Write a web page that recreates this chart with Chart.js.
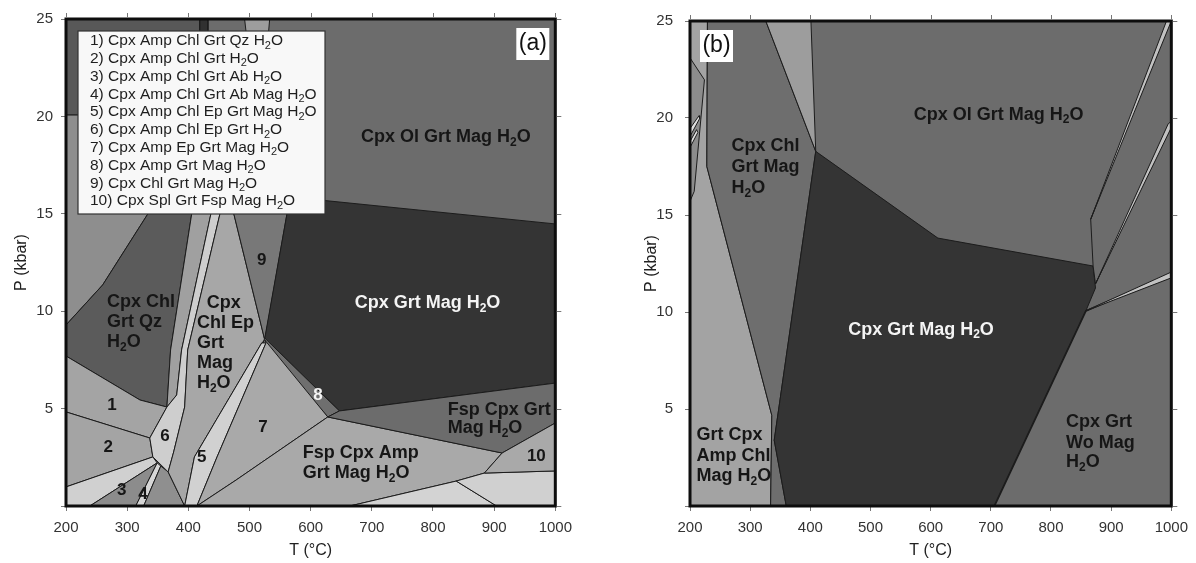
<!DOCTYPE html>
<html>
<head>
<meta charset="utf-8">
<script src="https://cdn.jsdelivr.net/npm/chart.js"></script>
<style>
  body { margin: 0; background: #fff; width: 1196px; height: 563px; position: relative; overflow: hidden; }
  .panel { position: absolute; top: 0; height: 563px; }
  #pa { left: 0; width: 580px; }
  #pb { left: 620px; width: 576px; }
</style>
</head>
<body>
<div class="panel" id="pa"><canvas id="ca"></canvas></div>
<div class="panel" id="pb"><canvas id="cb"></canvas></div>
<script>

// ---- panel (a)
const aOlField = [[200, 0], [1000, 0], [1000, 25], [200, 25]];
const aTopLeft = [[200, 25], [419, 25], [419, 20.07], [200, 20.07]];
const aTopDarkStrip = [[419, 25], [432, 25], [432, 23.9], [419, 23.9]];
const aTopLightStrip = [[492, 25], [533, 25], [530, 23.9], [496, 23.9]];
const aUpperLeft = [[200, 20.07], [419, 20.07], [407, 15.3], [340, 15.3], [260, 11.35], [200, 9.29]];
const aQz = [[340, 15.3], [407, 15.3], [371, 8.01], [365, 5.08], [321, 5.44], [200, 7.70], [200, 9.29], [260, 11.35]];
const aField1 = [[200, 7.70], [321, 5.44], [365, 5.08], [337, 3.49], [200, 4.83]];
const aField2 = [[200, 4.83], [337, 3.49], [342, 2.52], [200, 0.98]];
const aLowStrip = [[200, 0.98], [342, 2.52], [349, 2.21], [239, 0], [200, 0]];
const aField3 = [[239, 0], [349, 2.21], [314, 0]];
const aField4 = [[314, 0], [349, 2.21], [355, 2.05], [327, 0]];
const aFieldD = [[327, 0], [355, 2.05], [367, 1.75], [394, 0]];
const aGreyStrip = [[407, 15.3], [439, 15.3], [389, 8.01], [381, 5.70], [365, 5.08], [371, 8.01]];
const aField6 = [[439, 15.3], [454, 15.3], [399, 8.01], [394, 5.08], [376, 2.77], [367, 1.75], [342, 2.52], [337, 3.49], [365, 5.08], [381, 5.70], [389, 8.01]];
const aEpField = [[454, 15.3], [472, 15.3], [525, 8.52], [520, 8.37], [410, 2.52], [394, 0], [367, 1.75], [376, 2.77], [394, 5.08], [399, 8.01]];
const aField9 = [[472, 15.3], [563, 15.3], [525, 8.52]];
const aDark = [[567, 15.86], [1000, 14.48], [1000, 6.31], [647, 4.88], [525, 8.62], [563, 15.3]];
const aField8 = [[525, 8.62], [647, 4.88], [628, 4.57], [522, 8.37]];
const aField5 = [[520, 8.37], [527, 8.37], [447, 2.52], [414, 0], [394, 0], [410, 2.52]];
const aField7 = [[525, 8.52], [628, 4.57], [478, 1.33], [414, 0], [447, 2.52], [527, 8.37]];
const aFspAmp = [[628, 4.57], [913, 2.72], [884, 1.69], [838, 1.28], [664, 0], [414, 0], [478, 1.33]];
const aLowLight1 = [[664, 0], [838, 1.28], [904, 0]];
const aLowLight2 = [[838, 1.28], [884, 1.69], [1000, 1.80], [1000, 0], [904, 0]];
const aFspGrt = [[647, 4.88], [1000, 6.31], [1000, 4.26], [913, 2.72], [628, 4.57]];
const aField10 = [[1000, 4.26], [913, 2.72], [884, 1.69], [1000, 1.80]];

// ---- panel (b)
const bOlField = [[200, 0], [1000, 0], [1000, 25], [200, 25]];
const bLeftField = [[200, 25], [229, 25], [228, 17.50], [336, 4.67], [334, 0], [200, 0]];
const bLeftShade = [[200, 23.1], [224, 21.97], [207, 16.22], [200, 15.71]];
const bSliver1 = [[200, 19.46], [215, 20.12], [216, 19.97], [200, 19.05]];
const bSliver2 = [[200, 18.79], [211, 19.40], [213, 19.25], [200, 18.48]];
const bChlField = [[229, 25], [326, 25], [409, 18.28], [340, 3.39], [360, 0], [334, 0], [336, 4.67], [228, 17.50]];
const bTopWedge = [[326, 25], [401, 25], [409, 18.28]];
const bDark = [[409, 18.28], [612, 13.81], [870, 12.37], [874, 11.24], [858, 10.06], [706, 0], [360, 0], [340, 3.39]];
const bWoField = [[706, 0], [858, 10.06], [1000, 11.96], [1000, 0]];
const bRightWedge = [[870, 12.37], [866, 14.78], [995, 25], [1000, 25], [1000, 19.66], [874, 11.45]];
const bSliverS1 = [[866, 14.78], [992, 25], [1000, 25]];
const bSliverS2 = [[874, 11.45], [995, 19.71], [1000, 19.82], [1000, 19.51]];
const bSliverS3 = [[858, 10.06], [1000, 12.06], [1000, 11.76]];

// legend of the numbered small fields in (a)
const legendA = [
  '1) Cpx Amp Chl Grt Qz H_2O',
  '2) Cpx Amp Chl Grt H_2O',
  '3) Cpx Amp Chl Grt Ab H_2O',
  '4) Cpx Amp Chl Grt Ab Mag H_2O',
  '5) Cpx Amp Chl Ep Grt Mag H_2O',
  '6) Cpx Amp Chl Ep Grt H_2O',
  '7) Cpx Amp Ep Grt Mag H_2O',
  '8) Cpx Amp Grt Mag H_2O',
  '9) Cpx Chl Grt Mag H_2O',
  '10) Cpx Spl Grt Fsp Mag H_2O',
];

const FONT = '"Liberation Sans", Arial, sans-serif';
const INK = '#161616';
const WHITE = '#f4f4f4';

// fill shades, bottom layer first (third item: line width of the outline)
const fieldsA = [
  [aOlField, '#6c6c6c', 0],
  [aTopLeft, '#585858'],
  [aTopDarkStrip, '#303030'],
  [aTopLightStrip, '#9d9d9d'],
  [aUpperLeft, '#8e8e8e'],
  [aQz, '#5b5b5b'],
  [aField1, '#a4a4a4'],
  [aField2, '#a4a4a4'],
  [aLowStrip, '#d0d0d0'],
  [aField3, '#8c8c8c'],
  [aField4, '#d6d6d6'],
  [aFieldD, '#8f8f8f'],
  [aGreyStrip, '#a0a0a0'],
  [aField6, '#cecece'],
  [aEpField, '#a7a7a7'],
  [aField9, '#787878'],
  [aDark, '#343434'],
  [aField8, '#6f6f6f'],
  [aField5, '#d1d1d1'],
  [aField7, '#a9a9a9'],
  [aFspAmp, '#a9a9a9'],
  [aLowLight1, '#d3d3d3'],
  [aLowLight2, '#d0d0d0'],
  [aFspGrt, '#6c6c6c'],
  [aField10, '#a9a9a9'],
];

const fieldsB = [
  [bOlField, '#6c6c6c', 0],
  [bLeftField, '#a3a3a3'],
  [bLeftShade, '#8c8c8c'],
  [bSliver1, '#dedede'],
  [bSliver2, '#dedede'],
  [bChlField, '#6e6e6e'],
  [bTopWedge, '#9d9d9d'],
  [bDark, '#343434'],
  [bWoField, '#6c6c6c', 1.8],
  [bRightWedge, '#6c6c6c'],
  [bSliverS1, '#c2c2c2'],
  [bSliverS2, '#c2c2c2'],
  [bSliverS3, '#c2c2c2'],
];

// field names: text, T, P, align, colour
const labelsA = [
  ['Cpx Ol Grt Mag H_2O', 821, 18.94, 'center', INK],
  ['Cpx Grt Mag H_2O', 791, 10.42, 'center', WHITE],
  ['Cpx Chl', 267, 10.47, 'left', INK],
  ['Grt Qz', 267, 9.45, 'left', INK],
  ['H_2O', 267, 8.42, 'left', INK],
  ['Cpx', 430, 10.42, 'left', INK],
  ['Chl Ep', 414, 9.39, 'left', INK],
  ['Grt', 414, 8.37, 'left', INK],
  ['Mag', 414, 7.34, 'left', INK],
  ['H_2O', 414, 6.31, 'left', INK],
  ['Fsp Cpx Amp', 587, 2.72, 'left', INK],
  ['Grt Mag H_2O', 587, 1.69, 'left', INK],
  ['Fsp Cpx Grt', 824, 4.93, 'left', INK],
  ['Mag H_2O', 824, 4.0, 'left', INK],
];
const numbersA = [
  ['1', 275, 5.18, INK], ['2', 269, 3.03, INK], ['3', 291, 0.82, INK],
  ['4', 326, 0.62, INK], ['5', 422, 2.52, INK], ['6', 362, 3.59, INK],
  ['7', 522, 4.06, INK], ['8', 612, 5.70, WHITE], ['9', 520, 12.63, INK],
  ['10', 969, 2.57, INK],
];
const labelsB = [
  ['Cpx Chl', 269, 18.53, 'left', INK],
  ['Grt Mag', 269, 17.45, 'left', INK],
  ['H_2O', 269, 16.38, 'left', INK],
  ['Cpx Ol Grt Mag H_2O', 713, 20.17, 'center', INK],
  ['Cpx Grt Mag H_2O', 584, 9.09, 'center', WHITE],
  ['Cpx Grt', 825, 4.31, 'left', INK],
  ['Wo Mag', 825, 3.23, 'left', INK],
  ['H_2O', 825, 2.26, 'left', INK],
  ['Grt Cpx', 211, 3.64, 'left', INK],
  ['Amp Chl', 211, 2.57, 'left', INK],
  ['Mag H_2O', 211, 1.54, 'left', INK],
];

// draws text where "_2" means a subscript 2
function chemText(ctx, text, px, py, size, weight, align, color) {
  const bits = [];
  text.split('_').forEach((part, i) => {
    if (i === 0) { bits.push({s: part, sub: false}); return; }
    bits.push({s: part[0], sub: true});
    if (part.length > 1) bits.push({s: part.slice(1), sub: false});
  });
  const subSize = Math.round(size * 0.68);
  let total = 0;
  bits.forEach(b => {
    ctx.font = `${weight} ${b.sub ? subSize : size}px ${FONT}`;
    b.w = ctx.measureText(b.s).width;
    total += b.w;
  });
  let x = align === 'center' ? px - total / 2 : (align === 'right' ? px - total : px);
  ctx.fillStyle = color;
  ctx.textAlign = 'left';
  ctx.textBaseline = 'middle';
  bits.forEach(b => {
    ctx.font = `${weight} ${b.sub ? subSize : size}px ${FONT}`;
    ctx.fillText(b.s, x, b.sub ? py + size * 0.3 : py);
    x += b.w;
  });
}

function decorPlugin(cfg) {
  return {
    id: 'decor',
    afterDatasetsDraw(chart) {
      const {ctx, chartArea: ca, scales: {x, y}} = chart;
      ctx.save();

      cfg.labels.forEach(([text, t, p, align, color]) => {
        chemText(ctx, text, x.getPixelForValue(t), y.getPixelForValue(p), 18, 'bold', align, color);
      });
      (cfg.numbers || []).forEach(([text, t, p, color]) => {
        chemText(ctx, text, x.getPixelForValue(t), y.getPixelForValue(p), 17, 'bold', 'center', color);
      });

      if (cfg.legend) {
        const lx = ca.left + 12, ly = ca.top + 12;
        ctx.fillStyle = '#f8f8f8';
        ctx.fillRect(lx, ly, 247, 183);
        ctx.strokeStyle = '#333';
        ctx.lineWidth = 1.2;
        ctx.strokeRect(lx, ly, 247, 183);
        cfg.legend.forEach((entry, i) => {
          chemText(ctx, entry, lx + 12, ly + 10 + i * 17.8, 15.5, 'normal', 'left', '#1e1e1e');
        });
      }

      // panel tag, (a) sits top right and (b) top left
      const tx = cfg.tagRight ? ca.right - 39 : ca.left + 10;
      ctx.fillStyle = '#fff';
      ctx.fillRect(tx, ca.top + 9, 33, 32);
      chemText(ctx, cfg.tag, tx + 16.5, ca.top + 25, 23, 'normal', 'center', '#111');

      // heavy frame
      ctx.strokeStyle = '#0d0d0d';
      ctx.lineWidth = 3;
      ctx.strokeRect(ca.left, ca.top, ca.right - ca.left, ca.bottom - ca.top);

      // ticks mirrored on top and right
      ctx.strokeStyle = '#777';
      ctx.lineWidth = 1;
      ctx.beginPath();
      x.ticks.forEach(tk => {
        const px = Math.round(x.getPixelForValue(tk.value)) + 0.5;
        ctx.moveTo(px, ca.top - 1.5);
        ctx.lineTo(px, ca.top - 6);
      });
      y.ticks.forEach(tk => {
        const py = Math.round(y.getPixelForValue(tk.value)) + 0.5;
        ctx.moveTo(ca.right + 1.5, py);
        ctx.lineTo(ca.right + 6, py);
      });
      ctx.stroke();
      ctx.restore();
    },
  };
}

function fieldDatasets(fields) {
  return fields.map(([pts, shade, border], i) => ({
    data: pts.concat([pts[0]]).map(([t, p]) => ({x: t, y: p})),
    backgroundColor: shade,
    borderColor: '#1c1c1c',
    borderWidth: border === undefined ? 1 : border,
    fill: 'shape',
    pointRadius: 0,
    pointHoverRadius: 0,
    tension: 0,
    order: -i,
  }));
}

function makePanel(canvasId, fields, cfg) {
  const tickFont = {size: 15, family: FONT};
  new Chart(document.getElementById(canvasId), {
    type: 'line',
    data: {datasets: fieldDatasets(fields)},
    options: {
      responsive: true,
      maintainAspectRatio: false,
      animation: false,
      events: [],
      layout: {padding: {top: 19, right: cfg.padRight, left: 0, bottom: 0}},
      plugins: {legend: {display: false}, tooltip: {enabled: false}},
      scales: {
        x: {
          type: 'linear', min: 200, max: 1000,
          ticks: {stepSize: 100, color: '#333', font: tickFont, padding: 8, maxRotation: 0, autoSkip: false, callback: v => String(v)},
          grid: {drawOnChartArea: false, tickLength: 5, color: '#777'},
          border: {display: false},
          title: {display: true, text: 'T (°C)', color: '#222', font: {size: 16, family: FONT}, padding: {top: 0, bottom: 3}},
          afterFit(scale) { scale.height = 57; },
        },
        y: {
          type: 'linear', min: 0, max: 25,
          ticks: {stepSize: 5, color: '#333', font: tickFont, padding: cfg.yPad, callback: v => (v === 0 ? '' : String(v))},
          grid: {drawOnChartArea: false, tickLength: 5, color: '#777'},
          border: {display: false},
          title: {display: true, text: 'P (kbar)', color: '#222', font: {size: 16, family: FONT}, padding: {top: cfg.titlePad, bottom: 0}},
          afterFit(scale) { scale.width = cfg.yWidth; },
        },
      },
    },
    plugins: [decorPlugin(cfg)],
  });
}

makePanel('ca', fieldsA, {
  labels: labelsA, numbers: numbersA, legend: legendA, tag: '(a)', tagRight: true,
  padRight: 24, yWidth: 66, yPad: 8, titlePad: 12,
});
makePanel('cb', fieldsB, {
  labels: labelsB, tag: '(b)', tagRight: false,
  padRight: 16, yWidth: 70, yPad: 12, titlePad: 22,
});
</script>
</body>
</html>
